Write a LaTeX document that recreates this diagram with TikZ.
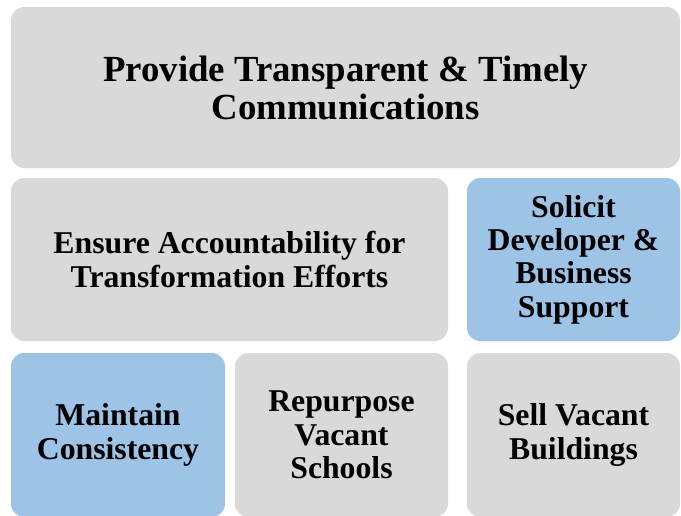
\documentclass[tikz,border=0pt]{standalone}
\usepackage{fontspec}
\setmainfont{Liberation Serif}
\definecolor{boxgray}{HTML}{D9D9D9}
\definecolor{boxblue}{HTML}{9DC3E6}
\begin{document}
\begin{tikzpicture}[x=0.75pt,y=-0.75pt,
  tile/.style={rounded corners=10pt, inner sep=0pt, align=center,
    font=\bfseries\fontsize{23.8pt}{25pt}\selectfont, minimum height=122.25pt},
  graytile/.style={tile, fill=boxgray},
  bluetile/.style={tile, fill=boxblue}]
\useasboundingbox (0,0) rectangle (681,515);
\clip (0,0) rectangle (681,515);
\node[graytile, minimum width=501.75pt, minimum height=120.75pt,
  font=\bfseries\fontsize{27.6pt}{28.5pt}\selectfont] (top) at (345.5,87.5)
  {Provide Transparent \& Timely\\Communications};
\node[graytile, minimum width=327.75pt] (midL) at (229.5,259.5)
  {Ensure Accountability for\\Transformation Efforts};
\node[bluetile, minimum width=159.75pt] (midR) at (573.5,259.5)
  {Solicit\\Developer \&\\Business\\Support};
\node[bluetile, minimum width=160.5pt, minimum height=123pt] (botL) at (118,435)
  {Maintain\\Consistency};
\node[graytile, minimum width=159.75pt, minimum height=123pt] (botM) at (341.5,435)
  {Repurpose\\Vacant\\Schools};
\node[graytile, minimum width=159.75pt, minimum height=123pt] (botR) at (573.5,435)
  {Sell Vacant\\Buildings};
\end{tikzpicture}
\end{document}
